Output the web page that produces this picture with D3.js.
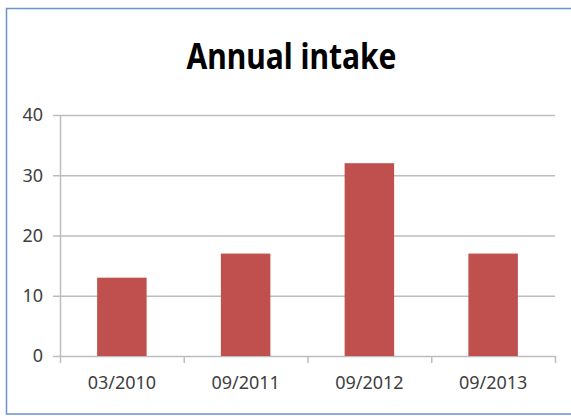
<!DOCTYPE html>
<html>
<head>
<meta charset="utf-8">
<script src="https://cdn.jsdelivr.net/npm/d3@7"></script>
<style>
  body { margin: 0; background: #fff; }
  svg { display: block; }
</style>
</head>
<body>
<svg id="chart" width="571" height="419"></svg>
<script>
// data
var categories = ["03/2010", "09/2011", "09/2012", "09/2013"];
var intake = [13, 17, 32, 17];
var yTicks = [0, 10, 20, 30, 40];

var svg = d3.select("#chart");

// plot box (not "top": that one belongs to window)
var plotLeft = 60, plotRight = 555, plotTop = 115, plotBottom = 356;

// chart frame: top, left and bottom only, the right side is cut off
svg.append("path")
  .attr("d", "M571,8.5 H6.5 V414 H571")
  .style("fill", "none")
  .style("stroke", "#6a93cc")
  .style("stroke-width", 1.5);

svg.append("text")
  .attr("x", 291.5).attr("y", 69)
  .attr("text-anchor", "middle")
  .attr("textLength", 210)
  .attr("lengthAdjust", "spacingAndGlyphs")
  .style("font-family", "'Noto Sans', 'Open Sans', sans-serif")
  .style("font-weight", "bold")
  .style("font-size", "35px")
  .style("fill", "#000")
  .text("Annual intake");

var x = d3.scaleBand()
  .domain(categories)
  .range([plotLeft, plotRight])
  .paddingInner(0.6)
  .paddingOuter(0.3);

var y = d3.scaleLinear()
  .domain([0, 40])
  .range([plotBottom, plotTop]);

// gridlines, with the little outward tick on the left
svg.append("g").selectAll("line")
  .data(yTicks)
  .join("line")
  .attr("x1", plotLeft - 7).attr("x2", plotRight)
  .attr("y1", function(d) { return y(d) + 0.5; })
  .attr("y2", function(d) { return y(d) + 0.5; })
  .style("stroke", "#bdbdbd")
  .style("stroke-width", 1.5);

// y axis line
svg.append("line")
  .attr("x1", plotLeft + 0.5).attr("x2", plotLeft + 0.5)
  .attr("y1", y(40)).attr("y2", y(0))
  .style("stroke", "#bdbdbd")
  .style("stroke-width", 1.5);

// x ticks sit between the categories
var edges = categories.map(function(c) {
  return x(c) - (x.step() - x.bandwidth()) / 2;
});
edges.push(plotRight);
svg.append("g").selectAll("line")
  .data(edges)
  .join("line")
  .attr("x1", function(d) { return d + 0.5; })
  .attr("x2", function(d) { return d + 0.5; })
  .attr("y1", plotBottom).attr("y2", plotBottom + 7)
  .style("stroke", "#bdbdbd")
  .style("stroke-width", 1.5);

svg.append("g").selectAll("rect")
  .data(intake)
  .join("rect")
  .attr("x", function(d, i) { return x(categories[i]); })
  .attr("y", function(d) { return y(d); })
  .attr("width", x.bandwidth())
  .attr("height", function(d) { return y(0) - y(d); })
  .style("fill", "#c0504d");

// tick labels through the axes, with their lines hidden
var yAxis = svg.append("g")
  .attr("transform", "translate(" + plotLeft + ",0)")
  .call(d3.axisLeft(y).tickValues(yTicks).tickSize(0).tickPadding(17).tickFormat(d3.format("d")));
var xAxis = svg.append("g")
  .attr("transform", "translate(0," + plotBottom + ")")
  .call(d3.axisBottom(x).tickSize(0).tickPadding(20));

[yAxis, xAxis].forEach(function(a) {
  a.select(".domain").remove();
  a.selectAll("text")
    .style("font-family", "'Noto Sans', 'Open Sans', sans-serif")
    .style("font-size", "18px")
    .style("fill", "#404040");
});
</script>
</body>
</html>
